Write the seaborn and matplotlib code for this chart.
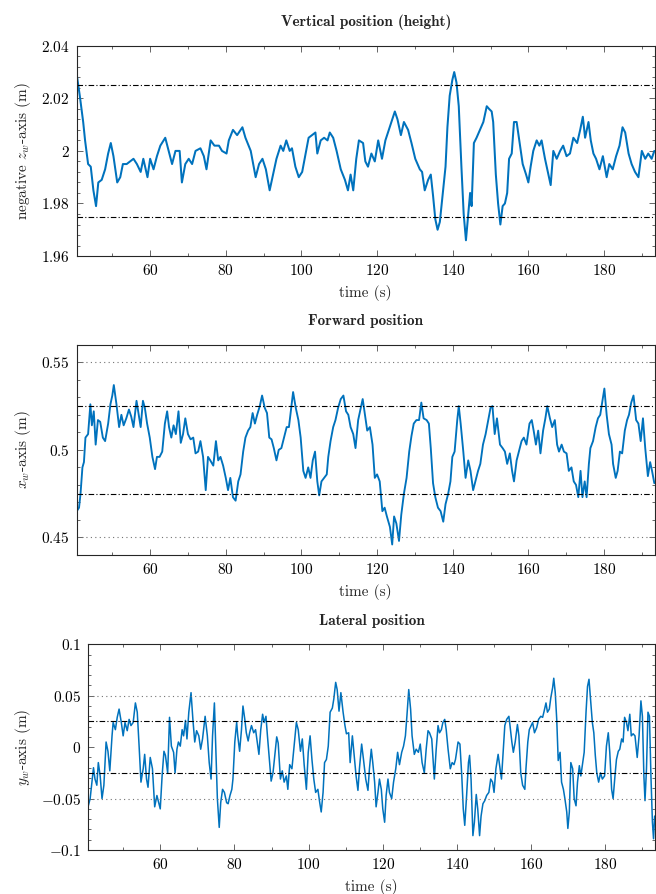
import matplotlib
matplotlib.use("Agg")
import matplotlib.pyplot as plt
import seaborn as sns
from matplotlib.ticker import FuncFormatter, MultipleLocator

# height (negative z_w)
t_z = [40.6, 41.4, 42.3, 42.8, 43.6, 44.3, 45.0, 45.7, 46.3, 47.2, 48.1, 48.9, 49.6, 50.3, 51.3, 52.1, 52.8, 53.8,
       54.7, 55.6, 56.5, 57.5, 58.2, 59.3, 60.0, 60.9, 61.8, 62.7, 64.0, 64.9, 65.8, 66.7, 67.8, 68.4, 69.3, 70.2,
       71.1, 72.0, 73.3, 74.2, 74.9, 76.0, 77.0, 78.2, 79.0, 80.2, 80.8, 81.9, 83.0, 84.4, 85.2, 86.6, 87.9, 88.8,
       89.7, 90.6, 91.6, 92.5, 93.4, 94.5, 95.2, 96.0, 96.9, 97.5, 98.4, 99.3, 100.2, 101.1, 101.9, 102.8, 103.7,
       104.2, 105.1, 106.0, 106.9, 107.5, 108.4, 109.3, 110.4, 111.5, 112.3, 113.0, 113.7, 114.5, 115.2, 116.3,
       116.9, 117.6, 118.5, 119.4, 120.3, 121.3, 122.2, 123.1, 123.8, 124.7, 125.4, 126.3, 127.1, 128.2, 129.1,
       130.1, 131.3, 131.9, 132.6, 133.5, 134.2, 134.8, 135.4, 136.0, 136.6, 137.4, 138.1, 138.6, 139.2, 139.9,
       140.4, 141.0, 141.6, 142.3, 142.9, 143.5, 144.1, 144.6, 145.0, 145.6, 146.3, 147.2, 148.1, 149.0, 149.6,
       150.3, 150.7, 151.4, 152.0, 152.6, 153.2, 153.8, 154.4, 154.9, 155.6, 156.2, 156.9, 157.6, 158.5, 159.4,
       160.0, 160.6, 161.3, 162.2, 162.9, 163.5, 164.4, 165.3, 165.9, 166.6, 167.5, 168.4, 169.2, 170.1, 171.0,
       171.9, 172.9, 173.7, 174.4, 175.0, 175.9, 176.5, 177.2, 177.9, 178.8, 179.7, 180.7, 181.4, 182.3, 183.2,
       184.1, 184.9, 185.6, 186.5, 187.3, 188.2, 189.1, 190.0, 190.9, 191.7, 192.6, 193.3]
z_val = [2.029, 2.021, 2.011, 2.004, 1.995, 1.994, 1.985, 1.979, 1.988, 1.989, 1.993, 1.999, 2.003, 1.998, 1.988,
         1.990, 1.995, 1.995, 1.996, 1.997, 1.995, 1.992, 1.997, 1.990, 1.997, 1.993, 1.998, 2.002, 2.005, 2.000,
         1.995, 2.000, 2.000, 1.988, 1.995, 1.997, 1.995, 2.000, 2.001, 1.998, 1.993, 2.004, 2.002, 2.002, 2.000,
         1.999, 2.004, 2.008, 2.006, 2.009, 2.005, 2.000, 1.990, 1.995, 1.997, 1.993, 1.985, 1.991, 1.997, 2.002,
         2.000, 2.004, 2.000, 2.001, 1.994, 1.990, 1.992, 1.999, 2.005, 2.006, 2.007, 1.999, 2.004, 2.005, 2.004,
         2.007, 2.005, 2.000, 1.993, 1.989, 1.985, 1.991, 1.985, 1.997, 2.004, 2.003, 1.996, 1.994, 1.999, 1.996,
         2.004, 1.997, 2.004, 2.008, 2.011, 2.015, 2.012, 2.006, 2.011, 2.008, 2.003, 1.997, 1.993, 1.992, 1.985,
         1.989, 1.991, 1.983, 1.974, 1.970, 1.973, 1.984, 1.994, 2.009, 2.021, 2.027, 2.030, 2.026, 2.017, 1.994,
         1.976, 1.966, 1.976, 1.984, 1.979, 2.003, 2.005, 2.008, 2.011, 2.017, 2.016, 2.015, 2.011, 1.991, 1.980,
         1.972, 1.979, 1.980, 1.984, 1.997, 1.999, 2.011, 2.011, 2.004, 1.995, 1.991, 1.988, 1.994, 2.000, 2.004,
         2.002, 2.004, 1.997, 1.991, 1.987, 2.000, 1.997, 2.000, 2.002, 1.998, 1.999, 2.005, 2.003, 2.008, 2.013,
         2.005, 2.011, 2.004, 1.999, 1.997, 1.993, 1.998, 1.990, 1.995, 1.993, 1.998, 2.002, 2.009, 2.007, 1.999,
         1.995, 1.992, 1.990, 2.000, 1.997, 1.999, 1.997, 2.000]

# forward position x_w
t_x = [40.5, 40.6, 41.2, 41.6, 42.1, 42.5, 42.9, 43.6, 44.2, 44.6, 45.1, 45.6, 46.2, 46.8, 47.5, 48.1, 48.9, 49.5,
       50.0, 50.4, 51.1, 51.8, 52.4, 53.0, 53.7, 54.4, 55.0, 55.6, 56.4, 57.0, 57.5, 58.1, 58.6, 59.2, 59.9, 60.6,
       61.3, 61.8, 62.5, 63.2, 63.9, 64.5, 65.0, 65.6, 66.2, 66.8, 67.5, 68.1, 68.7, 69.3, 70.0, 70.7, 71.4, 72.0,
       72.7, 73.3, 74.0, 74.7, 75.3, 75.9, 76.7, 77.4, 78.0, 78.6, 79.3, 80.0, 80.6, 81.2, 81.9, 82.6, 83.3, 83.9,
       84.6, 85.2, 85.9, 86.5, 87.1, 87.7, 88.3, 89.0, 89.6, 90.3, 90.9, 91.5, 92.1, 92.7, 93.4, 94.0, 94.7, 95.4,
       96.1, 96.7, 97.2, 97.8, 98.5, 99.2, 99.8, 100.5, 101.1, 101.8, 102.4, 103.0, 103.6, 104.2, 104.7, 105.3,
       106.0, 106.7, 107.1, 107.7, 108.4, 109.0, 109.7, 110.4, 111.1, 111.8, 112.4, 113.0, 113.7, 114.3, 115.0,
       115.7, 116.2, 116.8, 117.4, 118.1, 118.8, 119.4, 120.0, 120.7, 121.4, 122.0, 122.6, 123.4, 124.0, 124.5,
       125.1, 125.8, 126.4, 127.1, 127.8, 128.5, 129.1, 129.7, 130.4, 131.1, 131.7, 132.3, 133.1, 133.7, 134.2,
       134.8, 135.4, 136.1, 136.8, 137.5, 138.1, 138.8, 139.4, 139.9, 140.5, 141.2, 141.6, 142.1, 142.8, 143.4,
       144.1, 144.7, 145.4, 146.0, 146.7, 147.3, 148.0, 148.7, 149.4, 150.0, 150.5, 151.1, 151.7, 152.5, 153.2,
       153.8, 154.4, 155.1, 155.7, 156.2, 156.9, 157.5, 158.2, 158.8, 159.5, 160.3, 160.9, 161.4, 162.0, 162.6,
       163.2, 163.9, 164.5, 165.0, 165.7, 166.3, 167.0, 167.6, 168.1, 168.8, 169.4, 170.1, 170.7, 171.4, 172.0,
       172.6, 173.2, 173.8, 174.3, 174.9, 175.4, 176.0, 176.4, 177.1, 177.8, 178.4, 179.0, 179.6, 180.1, 180.7,
       181.3, 182.0, 182.4, 183.1, 183.6, 184.2, 184.8, 185.5, 186.1, 186.6, 187.2, 187.8, 188.5, 189.1, 189.7,
       190.3, 190.9, 191.6, 192.2, 192.7, 193.3]
x_val = [0.443, 0.465, 0.467, 0.475, 0.490, 0.493, 0.507, 0.509, 0.526, 0.514, 0.522, 0.503, 0.517, 0.516, 0.507,
         0.505, 0.515, 0.526, 0.531, 0.537, 0.526, 0.513, 0.520, 0.514, 0.518, 0.523, 0.519, 0.513, 0.528, 0.520,
         0.513, 0.528, 0.524, 0.515, 0.507, 0.496, 0.489, 0.496, 0.496, 0.499, 0.515, 0.522, 0.513, 0.507, 0.514,
         0.509, 0.522, 0.504, 0.509, 0.518, 0.509, 0.506, 0.507, 0.498, 0.499, 0.505, 0.496, 0.477, 0.496, 0.494,
         0.491, 0.505, 0.494, 0.496, 0.491, 0.484, 0.477, 0.484, 0.473, 0.471, 0.482, 0.486, 0.499, 0.507, 0.511,
         0.513, 0.521, 0.515, 0.520, 0.525, 0.531, 0.524, 0.521, 0.507, 0.506, 0.501, 0.494, 0.500, 0.501, 0.507,
         0.513, 0.513, 0.522, 0.533, 0.524, 0.517, 0.507, 0.488, 0.484, 0.490, 0.484, 0.494, 0.499, 0.482, 0.474,
         0.482, 0.484, 0.486, 0.496, 0.505, 0.513, 0.517, 0.524, 0.529, 0.531, 0.522, 0.520, 0.513, 0.509, 0.501,
         0.517, 0.524, 0.529, 0.520, 0.511, 0.513, 0.503, 0.484, 0.486, 0.482, 0.465, 0.467, 0.462, 0.456, 0.446,
         0.462, 0.458, 0.448, 0.463, 0.475, 0.484, 0.499, 0.508, 0.515, 0.517, 0.517, 0.527, 0.518, 0.517, 0.515,
         0.501, 0.481, 0.473, 0.467, 0.465, 0.459, 0.469, 0.475, 0.482, 0.496, 0.499, 0.517, 0.525, 0.515, 0.499,
         0.484, 0.494, 0.488, 0.477, 0.482, 0.488, 0.492, 0.503, 0.509, 0.517, 0.524, 0.525, 0.509, 0.518, 0.503,
         0.501, 0.499, 0.492, 0.498, 0.488, 0.482, 0.494, 0.499, 0.505, 0.507, 0.503, 0.515, 0.517, 0.511, 0.503,
         0.511, 0.498, 0.511, 0.518, 0.525, 0.518, 0.513, 0.517, 0.503, 0.499, 0.503, 0.499, 0.498, 0.488, 0.490,
         0.482, 0.480, 0.473, 0.488, 0.473, 0.482, 0.473, 0.492, 0.501, 0.505, 0.513, 0.518, 0.520, 0.528, 0.535,
         0.520, 0.509, 0.503, 0.492, 0.484, 0.488, 0.499, 0.498, 0.511, 0.517, 0.520, 0.527, 0.531, 0.517, 0.515,
         0.505, 0.518, 0.501, 0.485, 0.493, 0.488, 0.481]

# lateral position y_w
t_y = [40.6, 41.1, 41.5, 42.0, 42.4, 42.9, 43.3, 43.8, 44.3, 44.8, 45.4, 45.9, 46.4, 47.0, 47.3, 47.9, 48.4, 48.9,
       49.5, 50.0, 50.5, 51.1, 51.6, 52.1, 52.7, 53.3, 53.8, 54.3, 54.8, 55.4, 55.8, 56.3, 56.7, 57.3, 57.9, 58.5,
       59.1, 59.6, 60.0, 60.5, 61.0, 61.4, 62.0, 62.5, 63.0, 63.6, 64.0, 64.5, 64.9, 65.4, 65.9, 66.3, 66.8, 67.2,
       67.7, 68.3, 68.8, 69.3, 69.8, 70.4, 70.9, 71.4, 72.1, 72.7, 73.2, 73.7, 74.1, 74.6, 75.0, 75.4, 75.9, 76.3,
       76.8, 77.3, 77.9, 78.3, 78.8, 79.3, 79.6, 80.1, 80.6, 80.9, 81.4, 81.9, 82.3, 82.8, 83.2, 83.7, 84.1, 84.6,
       85.2, 85.7, 86.3, 86.6, 87.1, 87.6, 88.0, 88.5, 88.9, 89.5, 89.9, 90.4, 90.9, 91.4, 91.8, 92.4, 92.9, 93.4,
       94.0, 94.4, 94.9, 95.5, 96.1, 96.7, 97.2, 97.8, 98.3, 98.8, 99.4, 99.9, 100.4, 100.9, 101.4, 101.9, 102.5,
       103.0, 103.4, 103.9, 104.3, 104.8, 105.3, 105.8, 106.4, 106.8, 107.3, 107.7, 108.2, 108.7, 109.3, 109.8,
       110.2, 110.8, 111.2, 111.8, 112.3, 112.8, 113.3, 113.7, 114.3, 114.8, 115.4, 116.0, 116.4, 116.9, 117.3,
       117.8, 118.2, 118.7, 119.1, 119.6, 120.0, 120.5, 120.9, 121.4, 121.8, 122.4, 122.9, 123.5, 124.0, 124.5,
       125.1, 125.6, 126.1, 126.5, 127.0, 127.5, 127.9, 128.5, 129.0, 129.6, 130.1, 130.6, 131.2, 131.7, 132.2,
       132.6, 133.2, 133.9, 134.4, 134.9, 135.3, 135.8, 136.2, 136.7, 137.1, 137.6, 138.2, 138.7, 139.2, 139.6,
       140.3, 140.8, 141.3, 141.7, 142.1, 142.6, 143.1, 143.4, 143.8, 144.3, 144.7, 145.2, 145.6, 146.1, 146.5,
       147.0, 147.5, 148.0, 148.6, 149.1, 149.6, 150.0, 150.5, 151.1, 151.5, 152.0, 152.4, 152.9, 153.4, 154.0,
       154.3, 154.8, 155.2, 155.7, 156.3, 156.7, 157.2, 157.7, 158.3, 158.6, 159.1, 159.5, 160.0, 160.4, 160.9,
       161.5, 162.0, 162.6, 163.1, 163.5, 164.0, 164.4, 164.9, 165.3, 165.8, 166.1, 166.5, 166.9, 167.3, 167.8,
       168.2, 168.7, 169.1, 169.6, 169.9, 170.3, 170.7, 171.2, 171.6, 172.1, 172.5, 173.0, 173.4, 173.9, 174.3,
       174.8, 175.2, 175.6, 176.0, 176.5, 176.9, 177.3, 177.7, 178.2, 178.7, 179.2, 179.8, 180.3, 180.8, 181.2,
       181.7, 182.1, 182.6, 183.0, 183.5, 183.9, 184.4, 184.8, 185.2, 185.7, 186.1, 186.6, 187.0, 187.5, 188.0,
       188.6, 189.1, 189.6, 190.0, 190.4, 190.7, 191.1, 191.5, 191.9, 192.3, 192.7, 193.0, 193.3]
y_val = [-0.057, -0.050, -0.037, -0.020, -0.031, -0.037, -0.015, -0.028, -0.050, -0.037, 0.005, -0.004, -0.023,
         0.011, 0.024, 0.017, 0.029, 0.037, 0.024, 0.011, 0.024, 0.016, 0.027, 0.021, 0.024, 0.043, 0.034, 0.001,
         -0.034, -0.021, -0.007, -0.031, -0.039, -0.010, -0.021, -0.058, -0.047, -0.054, -0.060, -0.028, -0.004,
         -0.008, -0.025, 0.029, 0.001, -0.005, -0.025, -0.002, 0.005, 0.001, 0.017, 0.011, 0.026, 0.008, 0.034,
         0.053, 0.027, 0.005, 0.016, 0.011, -0.002, 0.008, 0.030, 0.011, -0.015, -0.031, 0.011, 0.043, -0.005,
         -0.050, -0.078, -0.054, -0.041, -0.044, -0.054, -0.055, -0.047, -0.041, -0.031, 0.005, 0.024, 0.011,
         -0.004, 0.017, 0.040, 0.027, 0.014, 0.006, 0.014, 0.021, 0.014, 0.017, 0.001, -0.007, 0.017, 0.032, 0.024,
         0.030, 0.011, -0.015, -0.033, -0.025, -0.008, 0.010, 0.004, -0.031, -0.023, -0.034, -0.028, -0.041,
         -0.017, -0.021, 0.001, 0.024, 0.017, -0.004, 0.008, -0.017, -0.041, -0.005, 0.011, -0.012, -0.031, -0.044,
         -0.041, -0.054, -0.063, -0.044, -0.015, -0.012, 0.001, 0.034, 0.038, 0.047, 0.063, 0.056, 0.035, 0.053,
         0.034, 0.021, 0.013, 0.014, -0.015, 0.011, -0.008, -0.028, -0.042, -0.021, 0.003, -0.012, -0.031, -0.042,
         -0.021, -0.002, -0.015, -0.034, -0.058, -0.044, -0.031, -0.041, -0.060, -0.073, -0.047, -0.031, -0.044,
         -0.050, -0.034, -0.021, -0.005, -0.017, -0.005, 0.001, 0.011, 0.030, 0.056, 0.037, 0.011, -0.007, -0.002,
         -0.005, 0.003, -0.015, -0.025, -0.002, 0.016, 0.014, 0.008, -0.031, -0.002, 0.021, 0.014, 0.017, 0.024,
         0.027, 0.017, -0.002, -0.021, -0.015, -0.017, -0.012, 0.005, 0.003, -0.028, -0.060, -0.076, -0.047,
         -0.015, -0.008, -0.031, -0.086, -0.073, -0.046, -0.060, -0.086, -0.067, -0.055, -0.052, -0.047, -0.044,
         -0.031, -0.034, -0.044, -0.021, -0.007, -0.018, -0.031, -0.008, 0.021, 0.027, 0.030, 0.021, 0.005, -0.005,
         0.005, 0.022, 0.011, -0.025, -0.037, -0.041, -0.021, 0.005, 0.017, 0.021, 0.024, 0.014, 0.019, 0.027,
         0.030, 0.029, 0.035, 0.043, 0.034, 0.037, 0.048, 0.058, 0.067, 0.053, 0.027, -0.013, -0.005, -0.034,
         -0.041, -0.050, -0.063, -0.079, -0.063, -0.015, -0.021, -0.050, -0.057, -0.034, -0.018, -0.028, -0.015,
         -0.005, 0.034, 0.059, 0.066, 0.047, 0.024, 0.014, -0.008, -0.025, -0.034, -0.025, -0.031, -0.028, 0.001,
         0.014, -0.005, -0.041, -0.050, -0.028, -0.012, -0.004, -0.002, 0.008, 0.005, 0.029, 0.024, 0.016, 0.032,
         0.011, 0.013, 0.011, -0.010, 0.011, 0.045, 0.030, -0.028, -0.052, -0.021, 0.034, 0.030, -0.028, -0.073,
         -0.089, -0.067]

titles = ["Vertical position (height)", "Forward position", "Lateral position"]
ylabels = ["negative $z_w$-axis (m)", "$x_w$-axis (m)", "$y_w$-axis (m)"]
bounds = [(1.975, 2.025), (0.475, 0.525), (-0.025, 0.025)]
limits = [(0.45, 0.55), (0.45, 0.55), (-0.05, 0.05)]
ylims = [(1.96, 2.04), (0.44, 0.56), (-0.1, 0.1)]
ymajor = [0.02, 0.05, 0.05]
yminor = [0.004, 0.01, 0.01]
widths = [1.45, 1.35, 1.1]

sns.set_theme(style="ticks")
plt.rcParams["font.family"] = "cmr10"
plt.rcParams["mathtext.fontset"] = "cm"
plt.rcParams["axes.formatter.use_mathtext"] = True
plt.rcParams["axes.unicode_minus"] = False

fig = plt.figure(figsize=(6.56, 8.94), dpi=100)
boxes = [[0.117, 0.7136, 0.881, 0.2352],
         [0.117, 0.3792, 0.881, 0.2352],
         [0.1346, 0.0492, 0.8639, 0.2301]]
series = [(t_z, z_val), (t_x, x_val), (t_y, y_val)]
blue = "#0072BD"

for i in range(3):
    ax = fig.add_axes(boxes[i])
    t, v = series[i]
    sns.lineplot(x=t, y=v, ax=ax, color=blue, lw=widths[i], estimator=None, sort=False)
    for b in bounds[i]:
        ax.axhline(b, color="black", lw=0.8, ls=(0, (5, 2, 1, 2)))
    if i > 0:
        for b in limits[i]:
            ax.axhline(b, color="0.45", lw=0.8, ls=(0, (1, 3)))
    ax.set_xlim(40.6, 193.4)
    ax.set_ylim(*ylims[i])
    ax.xaxis.set_major_locator(MultipleLocator(20))
    ax.xaxis.set_minor_locator(MultipleLocator(10))
    ax.yaxis.set_major_locator(MultipleLocator(ymajor[i]))
    ax.yaxis.set_minor_locator(MultipleLocator(yminor[i]))
    ax.xaxis.set_major_formatter(FuncFormatter(lambda v, p: f"${v:g}$"))
    ax.yaxis.set_major_formatter(FuncFormatter(lambda v, p: f"${round(v, 4):g}$"))
    ax.tick_params(which="both", direction="in", top=True, right=True, colors="0.3",
                   labelcolor="black", labelsize=11, width=0.6)
    ax.tick_params(which="major", length=4.5, pad=5)
    ax.tick_params(which="minor", length=2.5)
    for s in ax.spines.values():
        s.set_linewidth(0.8)
        s.set_color("0.15")
    ax.set_title(titles[i], fontfamily="cmb10", fontsize=11, pad=14)
    ax.set_xlabel("time (s)", fontsize=11, labelpad=5)
    ax.set_ylabel(ylabels[i], fontsize=11, labelpad=6)

fig.savefig("out.png", dpi=100)
